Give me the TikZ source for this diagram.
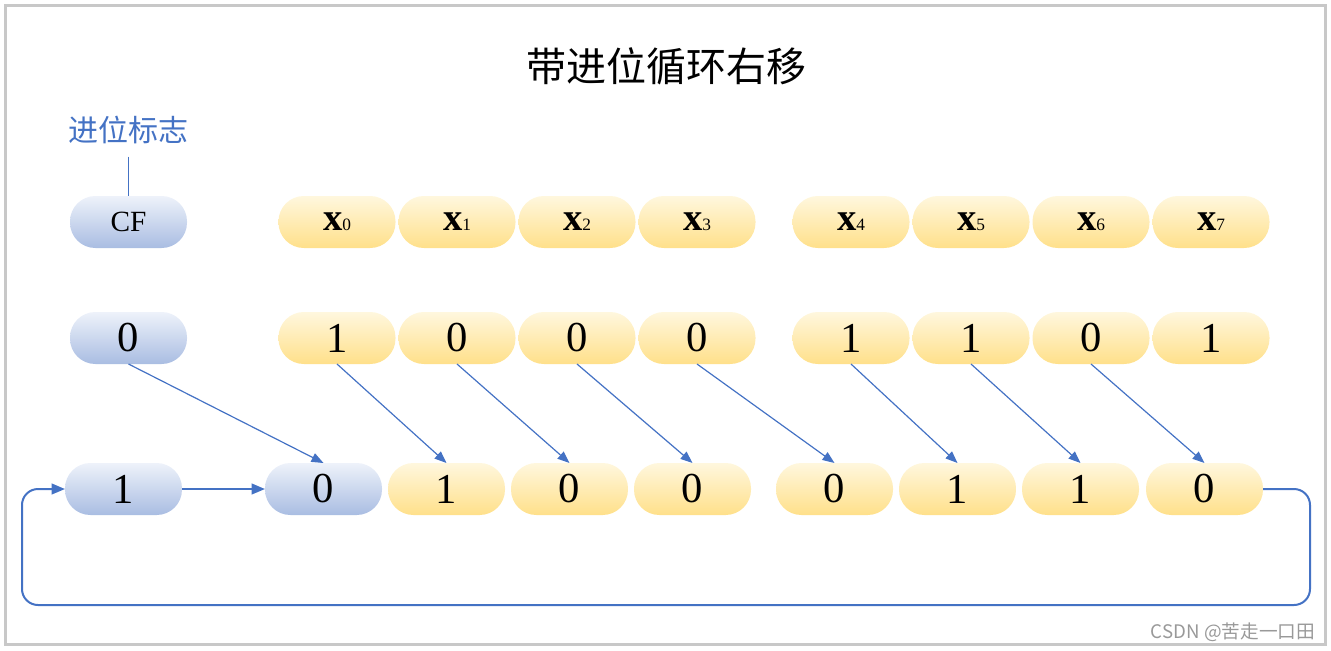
\documentclass[tikz,border=0pt]{standalone}
\usepackage{fontspec}
\setmainfont{Liberation Serif}
\newfontfamily\cjk{Noto Sans CJK SC}
\usetikzlibrary{arrows.meta,positioning}
\definecolor{linkblue}{HTML}{4472C4}
\definecolor{ytop}{HTML}{FFF7DE}
\definecolor{ybot}{HTML}{FFE08A}
\definecolor{btop}{HTML}{EEF2FA}
\definecolor{bbot}{HTML}{A9BDE2}
\definecolor{framegray}{HTML}{C8C8C8}
\tikzset{
  pill/.style={rounded corners=19pt, minimum width=87.75pt, minimum height=39pt, inner sep=0pt, outer sep=0pt, font=\fontsize{32}{36}\selectfont},
  ybit/.style={pill, top color=ytop, bottom color=ybot},
  bbit/.style={pill, top color=btop, bottom color=bbot},
  bitmove/.style={-{Triangle[length=9pt,width=7pt]}, draw=linkblue, line width=0.9pt},
  carry/.style={-{Triangle[length=10pt,width=8pt]}, draw=linkblue, line width=1.5pt, rounded corners=12pt}
}
\newcommand{\xbit}[1]{{\fontsize{29}{32}\selectfont\bfseries x}{\fontsize{13}{15}\selectfont #1}}

\begin{document}
\begin{tikzpicture}[x=0.75pt, y=-0.75pt]
  \useasboundingbox (0,0) rectangle (1331,650);
  \draw[framegray, line width=2.25pt] (5.5,5.5) rectangle (1325.5,644.5);
  \node[font=\cjk\fontsize{30}{34}\selectfont] (title) at (666,66) {带进位循环右移};
  \node[font=\cjk\fontsize{22.5}{26}\selectfont, text=linkblue] (flag) at (128.5,130) {进位标志};

  % register names
  \node[bbit, font=\fontsize{22}{26}\selectfont] (cf) at (128.5,222) {CF};
  \node[ybit] (x0) at (337,222) {\xbit{0}};
  \node[ybit, right=2.25pt of x0] (x1) {\xbit{1}};
  \node[ybit, right=2.25pt of x1] (x2) {\xbit{2}};
  \node[ybit, right=2.25pt of x2] (x3) {\xbit{3}};
  \node[ybit, right=27.75pt of x3] (x4) {\xbit{4}};
  \node[ybit, right=2.25pt of x4] (x5) {\xbit{5}};
  \node[ybit, right=2.25pt of x5] (x6) {\xbit{6}};
  \node[ybit, right=2.25pt of x6] (x7) {\xbit{7}};

  % before the shift
  \node[bbit, below=48pt of cf] (cfv) {0};
  \node[ybit, below=48pt of x0] (v0) {1};
  \node[ybit, below=48pt of x1] (v1) {0};
  \node[ybit, below=48pt of x2] (v2) {0};
  \node[ybit, below=48pt of x3] (v3) {0};
  \node[ybit, below=48pt of x4] (v4) {1};
  \node[ybit, below=48pt of x5] (v5) {1};
  \node[ybit, below=48pt of x6] (v6) {0};
  \node[ybit, below=48pt of x7] (v7) {1};

  % after the shift
  \node[bbit] (ncf) at (123.5,489) {1};
  \node[bbit] (r0) at (323.5,489) {0};
  \node[ybit, right=4.5pt of r0] (r1) {1};
  \node[ybit, right=4.5pt of r1] (r2) {0};
  \node[ybit, right=4.5pt of r2] (r3) {0};
  \node[ybit, right=18.75pt of r3] (r4) {0};
  \node[ybit, right=4.5pt of r4] (r5) {1};
  \node[ybit, right=4.5pt of r5] (r6) {1};
  \node[ybit, right=5.25pt of r6] (r7) {0};

  \draw[linkblue, line width=0.8pt, shorten <=6pt] (flag.south) -- (cf.north);

  \draw[bitmove] (cfv.south) -- (r0.north);
  \draw[bitmove] (v0.south) -- (r1.north);
  \draw[bitmove] (v1.south) -- (r2.north);
  \draw[bitmove] (v2.south) -- (r3.north);
  \draw[bitmove] (v3.south) -- (r4.north);
  \draw[bitmove] (v4.south) -- (r5.north);
  \draw[bitmove] (v5.south) -- (r6.north);
  \draw[bitmove] (v6.south) -- (r7.north);

  \coordinate (loopr) at (1310,605);
  \coordinate (loopl) at (22,605);
  \draw[carry] (r7.east) -| (loopr) -- (loopl) |- (ncf.west);
  \draw[carry] (ncf.east) -- (r0.west);

  \node[font=\cjk\fontsize{14}{16}\selectfont, text=black!40] (mark) at (1233,632) {CSDN @苦走一口田};
\end{tikzpicture}
\end{document}
